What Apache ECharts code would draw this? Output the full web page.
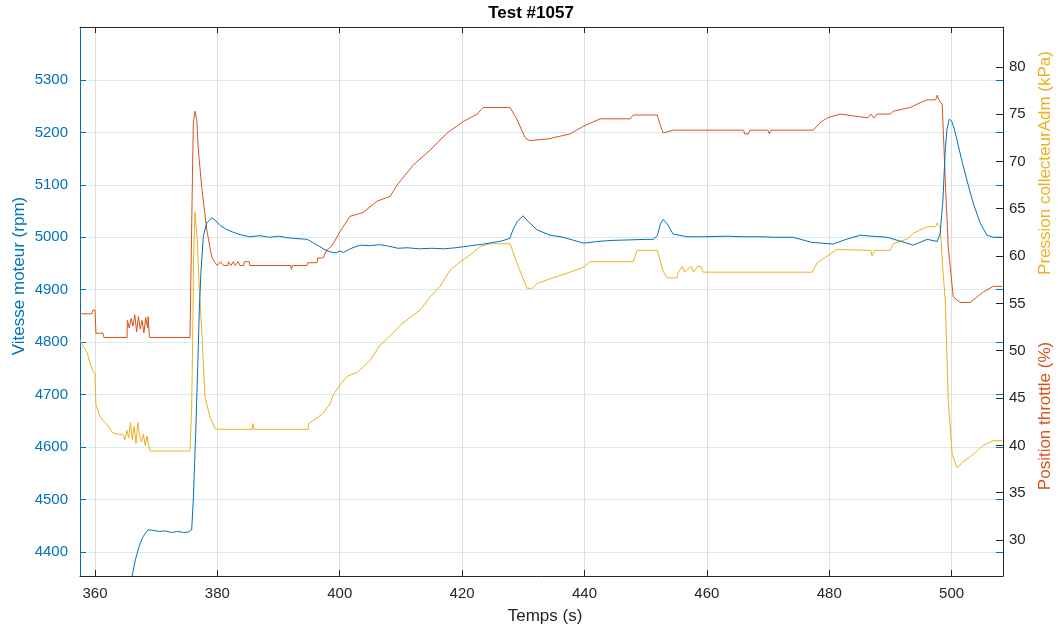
<!DOCTYPE html>
<html>
<head>
<meta charset="utf-8">
<script src="https://cdn.jsdelivr.net/npm/echarts@6/dist/echarts.min.js"></script>
<style>
  html, body { margin: 0; padding: 0; background: #fff; }
  #chart { width: 1059px; height: 627px; }
</style>
</head>
<body>
<div id="chart"></div>
<script>
// tick labels
var timeTicks = [360, 380, 400, 420, 440, 460, 480, 500];
var rpmTicks = [4400, 4500, 4600, 4700, 4800, 4900, 5000, 5100, 5200, 5300];
var kpaTicks = [30, 35, 40, 45, 50, 55, 60, 65, 70, 75, 80];

// Vitesse moteur (rpm), left axis
var rpmTime = [365.7, 366.05, 366.6, 367.2, 367.8, 368.66, 369.5, 370.5, 371.5, 372.5, 373.5, 374.5, 375.3, 375.8,
  376.07, 376.46, 376.79, 377.05, 377.3, 377.7, 378.26, 379.07, 379.6, 380.5, 381.5, 382.5, 383.7, 385.3, 387.0, 388.5, 390.0,
  391.5, 393.5, 394.7, 395.6, 397.6, 398.5, 399.4, 400.0, 400.6, 401.7, 403.3, 405.0, 406.5, 408.0, 409.5, 411.0,
  413.0, 415.0, 417.0, 419.0, 420.2, 421.5, 423.5, 425.0, 426.5, 427.8, 428.3, 429.0, 429.97, 430.8, 432.26, 434.38,
  436.5, 438.0, 439.78, 440.9, 442.07, 444.5, 447.46, 450.0, 451.22, 451.9, 452.4, 452.86, 453.5, 454.49, 456.78,
  459.4, 463.32, 466.0, 468.71, 471.0, 474.11, 477.21, 478.52, 480.65, 482.5, 485.06, 487.0, 489.47, 491.5, 493.73,
  496.01, 497.65, 498.14, 498.58, 498.96, 499.23, 499.61, 500.0, 500.4, 500.87, 501.7, 502.5, 503.53, 504.68,
  505.77, 506.8, 508.27];
var rpmValues = [4330, 4353, 4385, 4410, 4428, 4442, 4441, 4439, 4440, 4437, 4439, 4437, 4438, 4442,
  4499, 4627, 4753, 4860, 4930, 5001, 5027, 5037, 5033, 5022, 5015, 5010, 5005, 5001, 5003, 5000, 5002,
  4999, 4997, 4996, 4990, 4976, 4972, 4970, 4974, 4971, 4978, 4985, 4984, 4986, 4983, 4979, 4980,
  4978, 4979, 4978, 4980, 4982, 4984, 4987, 4990, 4993, 4998, 5014, 5030, 5041, 5030, 5014, 5004,
  5000, 4995, 4989, 4990, 4992, 4994, 4995, 4996, 4996, 5003, 5025, 5034, 5026, 5006, 5001,
  5001, 5002, 5001, 5001, 5000, 5000, 4990, 4989, 4987, 4995, 5004, 5002, 5000, 4993, 4985,
  4996, 4992, 5008, 5071, 5166, 5205, 5225, 5222, 5208, 5186, 5145, 5109, 5065, 5027,
  5004, 5000, 5000];

// Position throttle (%), right axis
var throttleTime = [357.55, 359.5, 359.67, 360.0, 360.16, 361.3, 361.47, 365.23,
  365.3, 365.6, 365.9, 366.2, 366.5, 366.8, 367.1, 367.4, 367.7, 368.0, 368.3, 368.6, 368.7, 368.9,
  375.53, 375.81, 376.07, 376.35, 376.63, 376.89, 377.44, 378.26, 379.08, 379.62,
  380.0, 380.5, 381.0, 381.7, 381.8, 382.1, 382.2, 382.6, 382.9, 383.4, 383.7, 384.3, 384.4, 385.2, 385.3,
  392.0, 392.1, 392.3, 394.66, 394.8, 396.3, 396.4, 397.3, 397.6, 398.0, 398.6, 399.2, 400.05,
  401.69, 403.81, 406.1, 408.23, 409.37, 411.99, 414.77, 417.54, 420.16, 422.45, 423.43, 427.84,
  428.99, 430.3, 431.0, 434.38, 434.87, 437.65, 439.78, 442.56, 447.46, 447.95, 451.88, 452.4, 452.86,
  454.49, 466.0, 466.2, 466.8, 467.0, 470.0, 470.2, 470.5, 477.38, 478.52, 479.67, 481.79,
  486.3, 486.8, 487.3, 487.8, 489.96, 490.46, 493.24, 494.87, 496.01, 497.4, 497.65, 497.9, 498.47,
  498.96, 499.45, 500.26, 501.41, 503.04, 504.19, 505.17, 506.8, 508.27];
var throttleValues = [53.9, 53.9, 54.3, 54.3, 51.85, 51.85, 51.4, 51.4,
  53.2, 52.4, 53.4, 52.6, 53.8, 52.0, 53.6, 52.3, 53.2, 51.9, 53.5, 52.4, 53.6, 51.4,
  51.4, 63.5, 74.1, 75.3, 74.4, 71.2, 67.3, 62.8, 59.9, 59.3,
  59.0, 59.4, 59.0, 59.0, 59.4, 59.4, 59.0, 59.4, 59.0, 59.4, 59.0, 59.0, 59.4, 59.4, 59.0,
  59.0, 58.6, 59.0, 59.0, 59.3, 59.3, 59.8, 59.8, 60.3, 60.7, 61.0, 61.6, 62.6,
  64.2, 64.6, 65.8, 66.3, 67.5, 69.6, 71.2, 73.0, 74.2, 75.0, 75.7, 75.7,
  74.4, 72.5, 72.2, 72.4, 72.5, 72.9, 73.7, 74.5, 74.5, 74.9, 74.9, 73.8, 73.0,
  73.3, 73.3, 72.9, 72.9, 73.3, 73.3, 72.9, 73.3, 73.3, 74.1, 74.6, 75.0,
  74.6, 75.0, 74.6, 75.0, 75.0, 75.3, 75.7, 76.2, 76.5, 76.5, 77.0, 76.5, 76.0,
  68.1, 61.0, 55.7, 55.1, 55.1, 55.7, 56.2, 56.8, 56.8];

// Pression collecteurAdm (kPa), right axis
var pressureTime = [357.55, 358.69, 359.3, 359.67, 360.0, 360.16, 360.82, 361.96, 362.94, 364.58,
  364.9, 365.2, 365.5, 365.8, 366.1, 366.4, 366.7, 367.0, 367.3, 367.6, 367.9, 368.2, 368.5, 368.7, 368.99,
  375.53, 375.8, 375.96, 376.12, 376.35, 376.71, 377.05, 377.44, 377.98, 378.8, 379.62, 380.0,
  385.7, 385.83, 386.0, 394.82, 394.9, 396.29, 397.27, 398.42, 398.91, 400.05, 401.2, 402.83,
  405.0, 406.6, 408.3, 409.9, 411.5, 413.13, 414.77, 416.4, 418.04, 419.67, 421.3, 422.94, 424.57, 427.84,
  428.99, 430.62, 431.5, 432.26, 434.38, 437.65, 439.78, 440.92, 447.95, 448.61, 451.88, 452.86, 453.51,
  455.15, 455.3, 456.0, 456.3, 457.5, 457.8, 458.5, 459.0, 459.4, 477.21, 478.03, 479.67, 481.3,
  486.8, 487.0, 487.4, 489.96, 490.46, 492.74, 493.73, 496.01, 497.4, 497.65, 498.14,
  498.63, 498.96, 499.45, 500.1, 500.92, 501.74, 503.04, 504.19, 505.17, 506.8, 508.27];
var pressureValues = [51.1, 49.8, 48.5, 47.8, 47.6, 44.3, 43.0, 42.2, 41.3, 41.1,
  40.6, 41.6, 40.8, 42.4, 40.6, 42.0, 40.2, 42.4, 41.0, 40.4, 41.2, 40.0, 41.0, 40.2, 39.4,
  39.4, 44, 51, 59.9, 64.7, 61.7, 56.4, 52.2, 45.1, 43.0, 41.8, 41.7,
  41.7, 42.3, 41.7, 41.7, 42.3, 42.9, 43.4, 44.4, 45.3, 46.4, 47.3, 47.7,
  49.0, 50.6, 51.6, 52.7, 53.5, 54.3, 55.7, 56.8, 58.5, 59.4, 60.1, 61.0, 61.3, 61.3,
  59.2, 56.6, 56.6, 57.1, 57.6, 58.3, 58.8, 59.4, 59.4, 60.6, 60.6, 58.4, 57.7,
  57.7, 58.3, 58.9, 58.3, 58.9, 58.3, 58.9, 58.9, 58.3, 58.3, 59.3, 60.0, 60.7,
  60.6, 60.0, 60.6, 60.6, 61.3, 61.8, 62.4, 63.1, 63.1, 63.5, 63.0,
  58, 55.4, 44.8, 39.0, 37.6, 38.2, 38.8, 39.4, 40.0, 40.5, 40.5];

function zip(xs, ys) {
  return xs.map(function (x, i) { return [x, ys[i]]; });
}

var FONT = "'Liberation Sans', Arial, Helvetica, sans-serif";
var BLUE = '#0072BD';
var RED = '#D95319';
var YELLOW = '#EDB120';
var DARK = '#262626';

var chart = echarts.init(document.getElementById('chart'), null, { renderer: 'canvas' });

var xRange = { min: 357.55, max: 508.4 };
var rpmRange = { min: 4354, max: 5401 };
var kpaRange = { min: 26.2, max: 84.2 };

function plain(v) { return String(v); }

var option = {
  animation: false,
  backgroundColor: '#fff',
  textStyle: { fontFamily: FONT },
  grid: { left: 80, right: 56, top: 27, bottom: 51, containLabel: false },
  xAxis: [
    {
      type: 'value', position: 'bottom', min: xRange.min, max: xRange.max,
      axisLine: { show: true, lineStyle: { color: DARK, width: 1 } },
      axisTick: { show: true, inside: true, length: 6, customValues: timeTicks, lineStyle: { color: DARK } },
      axisLabel: { customValues: timeTicks, formatter: plain, color: DARK, fontSize: 15, fontFamily: FONT, margin: 10 },
      splitLine: { show: true, lineStyle: { color: '#dfdfdf', width: 1 } }
    },
    {
      type: 'value', position: 'top', min: xRange.min, max: xRange.max,
      axisLine: { show: true, lineStyle: { color: DARK, width: 1 } },
      axisTick: { show: true, inside: true, length: 6, customValues: timeTicks, lineStyle: { color: DARK } },
      axisLabel: { show: false },
      splitLine: { show: false }
    }
  ],
  yAxis: [
    {
      type: 'value', position: 'left', min: rpmRange.min, max: rpmRange.max,
      axisLine: { show: true, lineStyle: { color: BLUE, width: 1 } },
      axisTick: { show: true, inside: true, length: 6, customValues: rpmTicks, lineStyle: { color: BLUE } },
      axisLabel: { customValues: rpmTicks, formatter: plain, color: BLUE, fontSize: 15, fontFamily: FONT, margin: 12 },
      splitLine: { show: true, lineStyle: { color: '#d9eaf5', width: 1 } }
    },
    {
      type: 'value', position: 'right', min: kpaRange.min, max: kpaRange.max,
      axisLine: { show: true, lineStyle: { color: DARK, width: 1 } },
      axisTick: { show: true, inside: true, length: 7, customValues: kpaTicks, lineStyle: { color: DARK } },
      axisLabel: { customValues: kpaTicks, formatter: plain, color: DARK, fontSize: 15, fontFamily: FONT, margin: 6 },
      splitLine: { show: false }
    },
    {
      type: 'value', position: 'right', min: rpmRange.min, max: rpmRange.max,
      axisLine: { show: false },
      axisTick: { show: true, inside: true, length: 7, customValues: rpmTicks, lineStyle: { color: BLUE } },
      axisLabel: { show: false },
      splitLine: { show: false }
    }
  ],
  series: [
    {
      name: 'Position throttle', type: 'line', xAxisIndex: 0, yAxisIndex: 1,
      data: zip(throttleTime, throttleValues), showSymbol: false, symbol: 'none',
      lineStyle: { color: RED, width: 1 }, itemStyle: { color: RED }, clip: true
    },
    {
      name: 'Pression collecteurAdm', type: 'line', xAxisIndex: 0, yAxisIndex: 1,
      data: zip(pressureTime, pressureValues), showSymbol: false, symbol: 'none',
      lineStyle: { color: YELLOW, width: 1 }, itemStyle: { color: YELLOW }, clip: true
    },
    {
      name: 'Vitesse moteur', type: 'line', xAxisIndex: 0, yAxisIndex: 0,
      data: zip(rpmTime, rpmValues), showSymbol: false, symbol: 'none',
      lineStyle: { color: BLUE, width: 1 }, itemStyle: { color: BLUE }, clip: true
    }
  ],
  graphic: [
    {
      type: 'text', x: 531, y: 13,
      style: { text: 'Test #1057', fontSize: 17, fontWeight: 'bold', fontFamily: FONT, fill: '#000',
        textAlign: 'center', textVerticalAlign: 'middle' }
    },
    {
      type: 'text', x: 545, y: 616,
      style: { text: 'Temps (s)', fontSize: 17, fontFamily: FONT, fill: DARK,
        textAlign: 'center', textVerticalAlign: 'middle' }
    },
    {
      type: 'text', x: 19, y: 276, rotation: Math.PI / 2,
      style: { text: 'Vitesse moteur (rpm)', fontSize: 17, fontFamily: FONT, fill: BLUE,
        textAlign: 'center', textVerticalAlign: 'middle' }
    },
    {
      type: 'text', x: 1045, y: 163, rotation: Math.PI / 2,
      style: { text: 'Pression collecteurAdm (kPa)', fontSize: 17, fontFamily: FONT, fill: YELLOW,
        textAlign: 'center', textVerticalAlign: 'middle' }
    },
    {
      type: 'text', x: 1045, y: 416, rotation: Math.PI / 2,
      style: { text: 'Position throttle (%)', fontSize: 17, fontFamily: FONT, fill: RED,
        textAlign: 'center', textVerticalAlign: 'middle' }
    }
  ]
};

chart.setOption(option);
</script>
</body>
</html>
